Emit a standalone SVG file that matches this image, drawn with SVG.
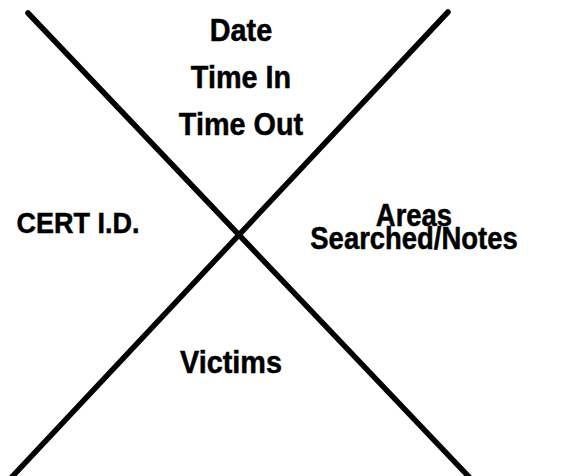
<svg xmlns="http://www.w3.org/2000/svg" width="562" height="476" viewBox="0 0 562 476">
<style>
.lbl{font-family:"Liberation Sans",Arial,sans-serif;font-weight:bold;fill:#000;stroke:#000;stroke-width:0.5;text-anchor:middle}
.ln{stroke:#000;stroke-width:5.5;stroke-linecap:round;fill:none}
</style>
<rect width="562" height="476" fill="#fff"/>
<g id="connectors">
<line class="ln" x1="28" y1="13" x2="471" y2="479"/>
<line class="ln" x1="448" y1="12" x2="10" y2="479"/>
</g>
<g id="top">
<text class="lbl" transform="translate(241,41) scale(0.9,1)" font-size="32">Date</text>
<text class="lbl" transform="translate(241,88) scale(0.9,1)" font-size="32">Time In</text>
<text class="lbl" transform="translate(241,135) scale(0.9,1)" font-size="32">Time Out</text>
</g>
<g id="left">
<text class="lbl" transform="translate(78,233) scale(0.9,1)" font-size="30">CERT I.D.</text>
</g>
<g id="right">
<text class="lbl" transform="translate(414,226) scale(0.9,1)" font-size="30.5"><tspan x="0" y="0">Areas</tspan><tspan x="0" y="23">Searched/Notes</tspan></text>
</g>
<g id="bottom">
<text class="lbl" transform="translate(231,373) scale(0.9,1)" font-size="32">Victims</text>
</g>
</svg>
